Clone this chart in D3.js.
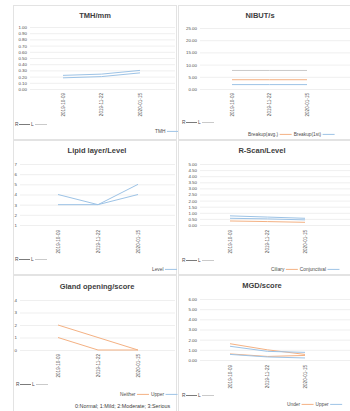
<!DOCTYPE html>
<html><head><meta charset="utf-8">
<script src="https://cdn.jsdelivr.net/npm/d3@7"></script>
<style>body{margin:0;background:#fff}svg{display:block;font-family:"Liberation Sans",Arial,sans-serif}</style>
</head><body>
<svg id="c" width="350" height="411"></svg>
<script>
// ---- data ----
const dates = ["2019-10-09", "2019-11-22", "2020-01-15"];

const tmhTicks = [0, 0.1, 0.2, 0.3, 0.4, 0.5, 0.6, 0.7, 0.8, 0.9, 1.0];
const tmhR = [0.22, 0.24, 0.30];
const tmhL = [0.18, 0.20, 0.26];

const nibutTicks = [0, 5, 10, 15, 20, 25];
const nibutGrey = [7.6, 7.6, 7.6];
const nibutAvg = [3.8, 3.8, 3.8];
const nibut1st = [1.8, 1.8, 1.8];

const lipidTicks = [1, 2, 3, 4, 5, 6, 7];
const lipidR = [4, 3, 5];
const lipidL = [3, 3, 4];

const rscanTicks = [0, 0.5, 1, 1.5, 2, 2.5, 3, 3.5, 4, 4.5, 5];
const rscanConjR = [0.75, 0.65, 0.55];
const rscanConjL = [0.55, 0.50, 0.42];
const rscanCiliary = [0.33, 0.28, 0.22];

const glandTicks = [0, 1, 2, 3, 4];
const glandR = [2, 1, 0];
const glandL = [1, 0, 0];

const mgdTicks = [0, 1, 2, 3, 4, 5, 6];
const mgdUnderR = [1.6, 1.0, 0.55];
const mgdUpperR = [1.35, 0.85, 0.75];
const mgdUnderL = [0.6, 0.35, 0.45];
const mgdUpperL = [0.55, 0.3, 0.2];

// ---- styling ----
const BLUE = "#9dc3e6", ORANGE = "#f4b183", GREY = "#c9c9c9";
const TXT = "#4d4d4d";
const svg = d3.select("#c");

const panels = [
  {title:"TMH/mm", box:[13,5,163,134], tcx:95, ty:18, gx:[30,175], yd:[0,1], yr:[89,27], ticks:tmhTicks, fmt:d3.format(".2f"),
   px:[63,140], dy:93, rl:[15,126], leg:{x:155,y:133,items:[["TMH",BLUE]]},
   series:[[tmhR,BLUE],[tmhL,BLUE]]},
  {title:"NIBUT/s", box:[178,5,174,134], tcx:260, ty:18, gx:[200,350], yd:[0,25], yr:[89,28], ticks:nibutTicks, fmt:d3.format(".2f"),
   px:[232,307], dy:93, rl:[182,124], leg:{x:248,y:136,items:[["Breakup(avg.)",ORANGE],["Breakup(1st)",BLUE]]},
   series:[[nibutGrey,GREY],[nibutAvg,ORANGE],[nibut1st,BLUE]]},
  {title:"Lipid layer/Level", box:[13,140,163,134], tcx:97, ty:153, gx:[20,175], yd:[1,7], yr:[225,164], ticks:lipidTicks, fmt:d3.format("d"),
   px:[58,138], dy:230, rl:[15,261], leg:{x:152,y:271,items:[["Level",BLUE]]},
   series:[[lipidR,BLUE],[lipidL,BLUE]]},
  {title:"R-Scan/Level", box:[178,140,174,134], tcx:262, ty:153, gx:[200,350], yd:[0,5], yr:[225,164], ticks:rscanTicks, fmt:d3.format(".2f"),
   px:[230,305], dy:230, rl:[182,262], leg:{x:271,y:271,items:[["Ciliary",ORANGE],["Conjunctival",BLUE]]},
   series:[[rscanConjR,BLUE],[rscanConjL,BLUE],[rscanCiliary,ORANGE]]},
  {title:"Gland opening/score", box:[13,275,163,140], tcx:97, ty:289, gx:[20,175], yd:[0,4], yr:[350,300], ticks:glandTicks, fmt:d3.format("d"),
   px:[58,138], dy:354, rl:[16,386], leg:{x:120,y:396,items:[["Neither",ORANGE],["Upper",BLUE]]},
   note:{x:75,y:408,text:"0:Normal; 1:Mild; 2:Moderate; 3:Serious"},
   series:[[glandR,ORANGE],[glandL,ORANGE]]},
  {title:"MGD/score", box:[178,275,174,140], tcx:262, ty:288, gx:[200,350], yd:[0,6], yr:[360,299], ticks:mgdTicks, fmt:d3.format(".2f"),
   px:[230,305], dy:365, rl:[182,397], leg:{x:287,y:406,items:[["Under",ORANGE],["Upper",BLUE]]},
   series:[[mgdUnderR,ORANGE],[mgdUpperR,BLUE],[mgdUnderL,ORANGE],[mgdUpperL,BLUE]]}
];

panels.forEach(p => {
  const g = svg.append("g");
  g.append("rect").attr("x",p.box[0]+0.5).attr("y",p.box[1]+0.5).attr("width",p.box[2]).attr("height",p.box[3])
    .attr("fill","#fff").attr("stroke","#e3e3e3").attr("stroke-width",1);
  g.append("text").attr("x",p.tcx).attr("y",p.ty).attr("text-anchor","middle")
    .attr("font-size",7.5).attr("font-weight","bold").attr("fill","#404040").text(p.title);

  const y = d3.scaleLinear().domain(p.yd).range(p.yr);
  const x = d3.scalePoint().domain(dates).range(p.px);

  const ax = d3.axisLeft(y).tickValues(p.ticks).tickFormat(p.fmt).tickSize(-(p.gx[1]-p.gx[0])).tickPadding(3);
  const axg = g.append("g").attr("transform",`translate(${p.gx[0]},0)`).call(ax);
  axg.select(".domain").remove();
  axg.selectAll(".tick line").attr("stroke","#e4e4e4").attr("stroke-width",0.6);
  axg.selectAll(".tick text").attr("font-size",4.4).attr("fill",TXT).attr("font-family","Liberation Sans, Arial, sans-serif");

  const xg = g.append("g");
  xg.selectAll("text").data(dates).join("text")
    .attr("transform",d=>`translate(${x(d)+1.6},${p.dy}) rotate(-90)`)
    .attr("text-anchor","end").attr("font-size",4.6).attr("fill",TXT).text(d=>d);

  const line = d3.line().x((d,i)=>x(dates[i])).y(d=>y(d));
  p.series.forEach(([vals,col]) => {
    g.append("path").datum(vals).attr("d",line).attr("fill","none").attr("stroke",col).attr("stroke-width",1);
  });

  const [rx,ry] = p.rl;
  g.append("text").attr("x",rx).attr("y",ry).attr("font-size",4.8).attr("fill",TXT).text("R");
  g.append("line").attr("x1",rx+4).attr("x2",rx+15).attr("y1",ry-1.5).attr("y2",ry-1.5).attr("stroke","#595959").attr("stroke-width",0.8);
  g.append("text").attr("x",rx+16).attr("y",ry).attr("font-size",4.8).attr("fill",TXT).text("L");
  g.append("line").attr("x1",rx+20).attr("x2",rx+32).attr("y1",ry-1.5).attr("y2",ry-1.5).attr("stroke","#bdbdbd").attr("stroke-width",0.8);

  let lx = p.leg.x;
  p.leg.items.forEach(([name,col]) => {
    const t = g.append("text").attr("x",lx).attr("y",p.leg.y).attr("font-size",4.8).attr("fill",TXT).text(name);
    lx += t.node().getComputedTextLength() + 1.5;
    g.append("line").attr("x1",lx).attr("x2",lx+12).attr("y1",p.leg.y-1.6).attr("y2",p.leg.y-1.6).attr("stroke",col).attr("stroke-width",1);
    lx += 14;
  });
});

panels.filter(p=>p.note).forEach(p=>{
  svg.append("text").attr("x",p.note.x).attr("y",p.note.y).attr("font-size",5.4).attr("fill","#404040").text(p.note.text);
});
</script>
</body></html>
